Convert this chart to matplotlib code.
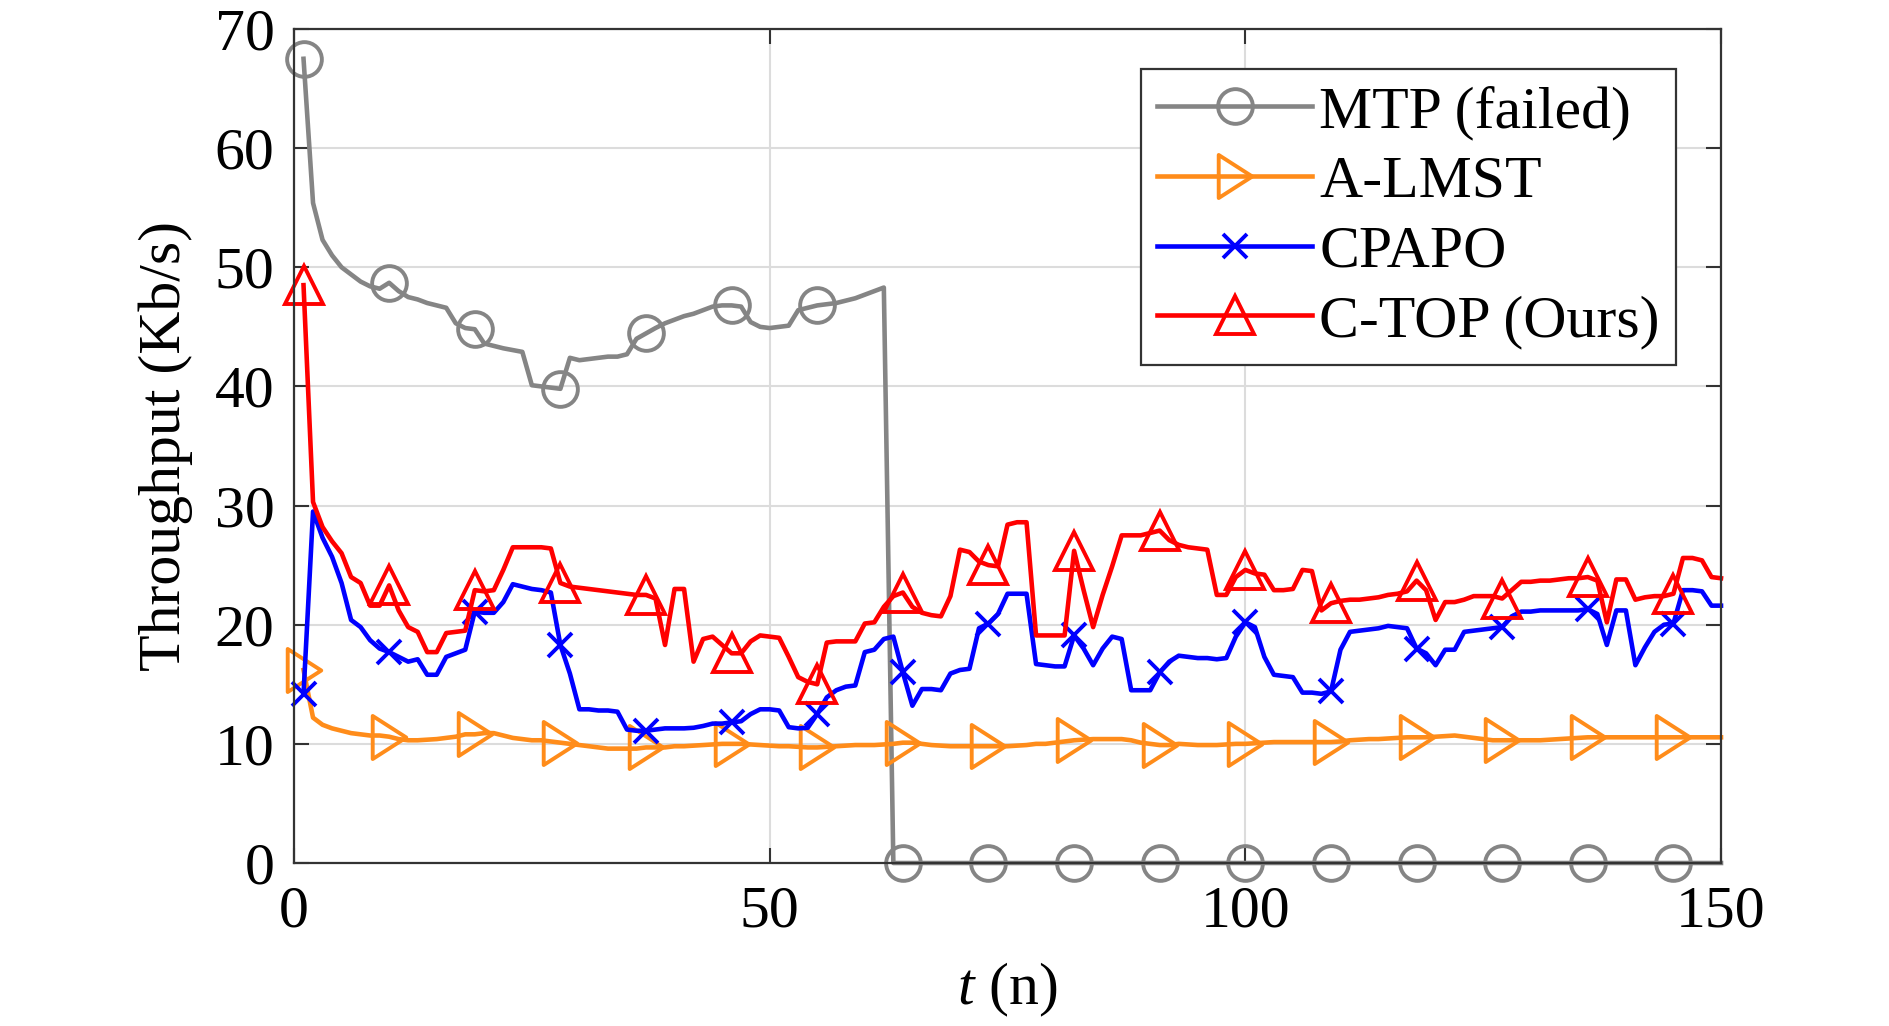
import matplotlib
matplotlib.use("Agg")
import matplotlib.pyplot as plt
import numpy as np
from matplotlib.path import Path

plt.rcParams['font.family'] = ['Liberation Serif', 'DejaVu Serif']
plt.rcParams['mathtext.fontset'] = 'custom'
plt.rcParams['mathtext.rm'] = 'Liberation Serif'
plt.rcParams['mathtext.it'] = 'Liberation Serif:italic'

# time steps
t = list(range(1, 151))

mtp = [67.5, 55.4, 52.3, 51.0, 50.0, 49.4, 48.8, 48.4, 48.2, 48.7,
       48.0, 47.5, 47.3, 47.0, 46.8, 46.6, 45.3, 44.9, 44.8, 43.6,
       43.4, 43.2, 43.05, 42.9, 40.1, 40.0, 39.9, 39.8, 42.4, 42.2,
       42.3, 42.4, 42.5, 42.5, 42.7, 44.0, 44.45, 44.9, 45.3, 45.6,
       45.9, 46.1, 46.4, 46.7, 46.8, 46.8, 46.7, 45.4, 45.0, 44.9,
       45.0, 45.1, 46.4, 46.6, 46.8, 46.9, 47.0, 47.2, 47.4, 47.7,
       48.0, 48.3] + [0.0] * 88

almst = [16.2, 12.2, 11.6, 11.3, 11.1, 10.9, 10.8, 10.7, 10.7, 10.6,
         10.4, 10.3, 10.3, 10.35, 10.4, 10.5, 10.6, 10.8, 10.8, 10.9,
         10.9, 10.7, 10.5, 10.4, 10.3, 10.3, 10.2, 10.1, 10.0, 9.9,
         9.8, 9.7, 9.6, 9.6, 9.6, 9.6, 9.7, 9.7, 9.7, 9.8,
         9.8, 9.85, 9.9, 9.95, 10.0, 10.0, 10.0, 9.95, 9.9, 9.85,
         9.8, 9.8, 9.75, 9.7, 9.7, 9.75, 9.8, 9.85, 9.9, 9.9,
         9.9, 9.95, 10.0, 10.1, 10.1, 10.0, 9.9, 9.85, 9.8, 9.8,
         9.8, 9.8, 9.8, 9.8, 9.8, 9.85, 9.9, 10.0, 10.0, 10.1,
         10.2, 10.3, 10.35, 10.4, 10.4, 10.4, 10.4, 10.3, 10.1, 10.0,
         9.9, 9.9, 10.0, 9.95, 9.9, 9.9, 9.9, 9.95, 10.0, 10.0,
         10.05, 10.1, 10.15, 10.15, 10.15, 10.15, 10.15, 10.15, 10.15, 10.2,
         10.3, 10.35, 10.4, 10.4, 10.45, 10.5, 10.55, 10.55, 10.55, 10.6,
         10.65, 10.7, 10.6, 10.5, 10.4, 10.3, 10.3, 10.3, 10.3, 10.3,
         10.3, 10.35, 10.4, 10.45, 10.5, 10.55, 10.55, 10.55, 10.55, 10.55,
         10.55, 10.55, 10.55, 10.55, 10.55, 10.55, 10.55, 10.55, 10.55, 10.55]

cpapo = [14.2, 29.5, 27.3, 25.7, 23.5, 20.4, 19.8, 18.7, 18.0, 17.7,
         17.3, 16.9, 17.1, 15.8, 15.8, 17.3, 17.6, 17.9, 21.1, 21.0,
         21.0, 21.9, 23.4, 23.2, 23.0, 22.9, 22.7, 18.3, 15.9, 12.9,
         12.9, 12.8, 12.8, 12.7, 11.2, 11.1, 11.1, 11.2, 11.3, 11.3,
         11.3, 11.35, 11.5, 11.7, 11.7, 11.8, 11.9, 12.5, 12.9, 12.9,
         12.8, 11.4, 11.3, 11.35, 12.5, 13.9, 14.5, 14.8, 14.9, 17.7,
         17.9, 18.8, 19.0, 16.0, 13.2, 14.6, 14.6, 14.5, 15.9, 16.2,
         16.3, 19.7, 20.1, 20.9, 22.6, 22.6, 22.6, 16.7, 16.6, 16.5,
         16.5, 19.1, 18.0, 16.6, 18.0, 19.0, 18.8, 14.5, 14.5, 14.5,
         16.0, 16.9, 17.4, 17.3, 17.2, 17.2, 17.1, 17.2, 19.0, 20.2,
         19.8, 17.3, 15.8, 15.7, 15.6, 14.3, 14.3, 14.2, 14.4, 17.9,
         19.4, 19.5, 19.6, 19.7, 19.9, 19.8, 19.7, 18.0, 17.6, 16.6,
         17.9, 17.9, 19.4, 19.5, 19.6, 19.7, 19.8, 20.7, 21.1, 21.1,
         21.2, 21.2, 21.2, 21.2, 21.2, 21.3, 20.9, 18.3, 21.2, 21.2,
         16.6, 18.1, 19.4, 20.0, 20.1, 22.9, 22.9, 22.8, 21.6, 21.6]

ctop = [48.5, 30.3, 28.2, 27.0, 26.0, 24.0, 23.5, 21.6, 21.6, 23.3,
        21.2, 19.8, 19.4, 17.7, 17.7, 19.3, 19.4, 19.5, 22.9, 22.8,
        22.9, 24.6, 26.5, 26.5, 26.5, 26.5, 26.4, 23.5, 23.2, 23.1,
        23.0, 22.9, 22.8, 22.7, 22.6, 22.5, 22.5, 22.2, 18.3, 23.0,
        23.0, 16.9, 18.8, 19.0, 18.3, 17.6, 17.6, 18.6, 19.1, 19.0,
        18.9, 17.3, 15.6, 15.2, 15.0, 18.5, 18.6, 18.6, 18.6, 20.1,
        20.2, 21.5, 22.4, 22.7, 21.5, 21.0, 20.8, 20.7, 22.4, 26.3,
        26.1, 25.3, 25.0, 24.9, 28.4, 28.6, 28.6, 19.1, 19.1, 19.1,
        19.1, 26.2, 22.9, 19.8, 22.5, 24.9, 27.5, 27.5, 27.5, 27.7,
        27.9, 27.1, 26.7, 26.5, 26.4, 26.3, 22.5, 22.5, 24.0, 24.6,
        24.3, 24.2, 22.9, 22.9, 23.0, 24.6, 24.5, 21.2, 21.8, 22.0,
        22.1, 22.1, 22.2, 22.3, 22.5, 22.6, 22.8, 23.7, 22.9, 20.4,
        21.9, 21.9, 22.1, 22.4, 22.4, 22.4, 22.2, 22.9, 23.6, 23.6,
        23.7, 23.7, 23.8, 23.9, 23.9, 24.0, 23.7, 20.2, 23.8, 23.8,
        22.1, 22.3, 22.4, 22.4, 22.6, 25.6, 25.6, 25.4, 24.0, 23.9]

labels = ['MTP (failed)', 'A-LMST', 'CPAPO', 'C-TOP (Ours)']
colors = ['#858585', '#FF8C1A', '#0000FF', '#FF0000']

right_tri = Path([(-0.78, -1.0), (0.78, 0.0), (-0.78, 1.0), (-0.78, -1.0)],
                 [Path.MOVETO, Path.LINETO, Path.LINETO, Path.CLOSEPOLY])

fig = plt.figure(figsize=(18.9, 10.26), dpi=100)
ax = fig.add_axes([0.15556, 0.15887, 0.75503, 0.81287])

lw = 3.3
mew = 2.8
common = dict(lw=lw, mew=mew, fillstyle='none', markevery=(0, 9), clip_on=False)
ax.plot(t, mtp, color=colors[0], marker='o', ms=25, label=labels[0], **common)
ax.plot(t, almst, color=colors[1], marker=right_tri, ms=31, label=labels[1], **common)
ax.plot(t, cpapo, color=colors[2], marker='x', ms=17, label=labels[2], **common)
ax.plot(t, ctop, color=colors[3], marker='^', ms=27, label=labels[3], **common)

ax.set_xlim(0, 150)
ax.set_ylim(0, 70)
ax.set_xticks([0, 50, 100, 150])
ax.set_yticks(range(0, 71, 10))
ax.grid(True, color='#dcdcdc', lw=1.5)
ax.set_axisbelow(True)
for s in ax.spines.values():
    s.set_color('#333333')
    s.set_linewidth(1.6)
ax.tick_params(direction='in', length=10.5, width=1.5, top=True, right=True,
               labelsize=43, colors='#333333', labelcolor='black')
ax.tick_params(axis='y', pad=14)
ax.tick_params(axis='x', pad=16)

ax.set_ylabel('Throughput (Kb/s)', fontsize=43)
ax.set_xlabel(r'$t$ (n)', fontsize=43)
ax.yaxis.set_label_coords(-0.071, 0.5)
ax.xaxis.set_label_coords(0.5, -0.117)

leg = ax.legend(loc='upper right', bbox_to_anchor=(0.9685, 0.952), borderaxespad=0,
                fontsize=43, frameon=True, fancybox=False, framealpha=1,
                edgecolor='#333333', handlelength=2.6, handletextpad=0.12,
                labelspacing=0.25, borderpad=0.27)
leg.get_frame().set_linewidth(1.6)

fig.savefig('out.png', dpi=100)
